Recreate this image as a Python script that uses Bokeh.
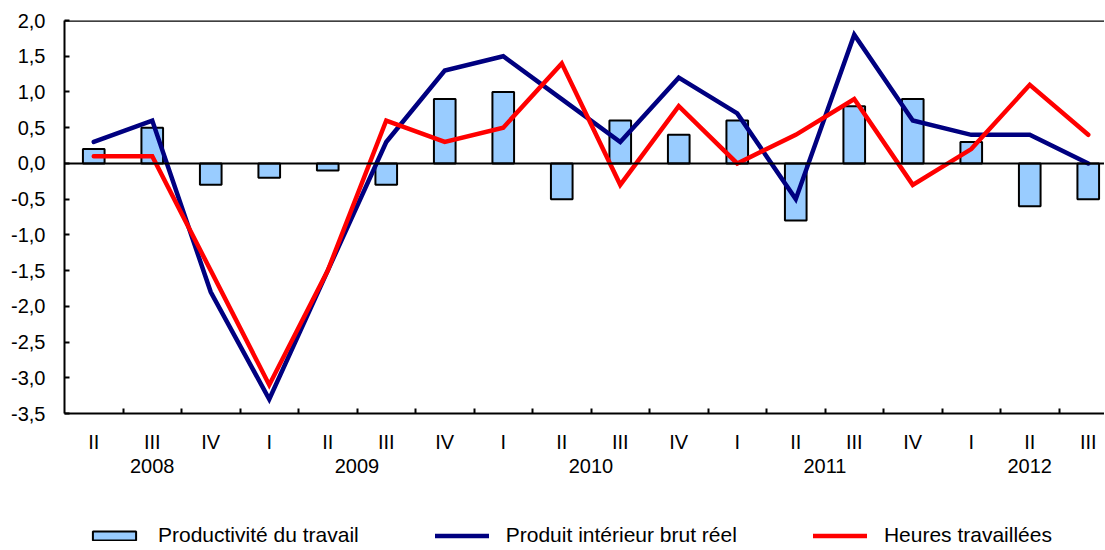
from bokeh.plotting import figure
from bokeh.layouts import column
from bokeh.models import (Range1d, FixedTicker, Span, Legend, LegendItem, ColumnDataSource,
                          LinearAxis)
from bokeh.embed import file_html
from bokeh.resources import INLINE

quarters = ["II", "III", "IV", "I", "II", "III", "IV", "I", "II", "III", "IV",
            "I", "II", "III", "IV", "I", "II", "III"]
years = ["2008"] * 3 + ["2009"] * 4 + ["2010"] * 4 + ["2011"] * 4 + ["2012"] * 3
productivite = [0.2, 0.5, -0.3, -0.2, -0.1, -0.3, 0.9, 1.0, -0.5, 0.6, 0.4,
                0.6, -0.8, 0.8, 0.9, 0.3, -0.6, -0.5]
pib = [0.3, 0.6, -1.8, -3.3, -1.5, 0.3, 1.3, 1.5, 0.9, 0.3, 1.2,
       0.7, -0.5, 1.8, 0.6, 0.4, 0.4, 0.0]
heures = [0.1, 0.1, -1.5, -3.1, -1.5, 0.6, 0.3, 0.5, 1.4, -0.3, 0.8,
          0.0, 0.4, 0.9, -0.3, 0.2, 1.1, 0.4]
y_ticks = [-3.5, -3.0, -2.5, -2.0, -1.5, -1.0, -0.5, 0.0, 0.5, 1.0, 1.5, 2.0]
labels = ["Productivité du travail", "Produit intérieur brut réel", "Heures travaillées"]

FONT = "Liberation Sans"
FS = "20px"
FS_LEG = "21px"
BAR_FILL = "#99CCFF"
BLUE = "#000080"
RED = "#FF0000"

x = list(range(len(quarters)))
src = ColumnDataSource(dict(x=x, prod=productivite, pib=pib, heures=heures))

W = 1104
H_MAIN, H_LEG = 500, 49
BL, BT = 64, 20
FRAME_H = 393
BB = H_MAIN - BT - FRAME_H
frame_w = W - BL
cat_px = 58.5


def draw(fig):
    b = fig.vbar(x="x", top="prod", width=0.37, source=src, fill_color=BAR_FILL,
                 line_color="black", line_width=2)
    a = fig.line(x="x", y="pib", source=src, line_color=BLUE, line_width=4.5,
                 line_cap="round", line_join="miter")
    c = fig.line(x="x", y="heures", source=src, line_color=RED, line_width=4.5,
                 line_cap="round", line_join="miter")
    return b, a, c


p = figure(width=W, height=H_MAIN, output_backend="svg", toolbar_location=None,
           x_range=Range1d(-0.5, -0.5 + frame_w / cat_px),
           y_range=Range1d(y_ticks[0], y_ticks[-1]),
           min_border_left=BL, min_border_right=0, min_border_top=BT, min_border_bottom=BB)
p.outline_line_color = None
p.grid.visible = False
p.background_fill_color = "white"
p.border_fill_color = "white"

draw(p)

p.add_layout(Span(location=0, dimension="width", line_color="black", line_width=2))
p.add_layout(Span(location=y_ticks[-1], dimension="width", line_color="black", line_width=2.5))

# y axis
ya = p.yaxis[0]
ya.ticker = FixedTicker(ticks=y_ticks)
ya.major_label_overrides = {t: f"{t:.1f}".replace(".", ",") for t in y_ticks}
ya.major_tick_in = 5
ya.major_tick_out = 0
ya.minor_tick_line_color = None
ya.axis_line_width = 2
ya.major_tick_line_width = 2
ya.major_label_text_font = FONT
ya.major_label_text_font_size = FS
ya.major_label_text_color = "black"
ya.major_label_standoff = 19

# x axis (quarters)
xa = p.xaxis[0]
xa.ticker = FixedTicker(ticks=x, minor_ticks=[i + 0.5 for i in x[:-1]])
xa.major_label_overrides = {i: q for i, q in zip(x, quarters)}
xa.major_tick_line_color = None
xa.major_tick_in = 0
xa.major_tick_out = 0
xa.minor_tick_in = 5
xa.minor_tick_out = 0
xa.minor_tick_line_width = 2
xa.axis_line_width = 2
xa.major_label_text_font = FONT
xa.major_label_text_font_size = FS
xa.major_label_text_color = "black"
xa.major_label_standoff = 17

# second axis: years centred on their quarters
year_names = list(dict.fromkeys(years))
year_centers = []
for yr in year_names:
    idx = [i for i, v in enumerate(years) if v == yr]
    year_centers.append(sum(idx) / len(idx))
ya2 = LinearAxis(ticker=FixedTicker(ticks=year_centers),
                 major_label_overrides={c: yr for c, yr in zip(year_centers, year_names)},
                 axis_line_color=None, major_tick_line_color=None, minor_tick_line_color=None,
                 major_tick_in=0, major_tick_out=0, major_label_standoff=3,
                 major_label_text_font=FONT, major_label_text_font_size=FS,
                 major_label_text_color="black")
p.add_layout(ya2, "below")

# legend strip: same series as hidden renderers, legend keys shown without the inactive veil
lg = figure(width=W, height=H_LEG, output_backend="svg", toolbar_location=None,
            x_axis_location=None, y_axis_location=None,
            x_range=Range1d(-0.5, -0.5 + frame_w / cat_px),
            y_range=Range1d(y_ticks[0], y_ticks[-1]),
            min_border_left=0, min_border_right=0, min_border_top=0, min_border_bottom=0)
lg.grid.visible = False
lg.outline_line_color = None
lg.background_fill_color = "white"
lg.border_fill_color = "white"
rb, ra, rc = draw(lg)
for r in (rb, ra, rc):
    r.visible = False

legend = Legend(items=[LegendItem(label=labels[0], renderers=[rb]),
                       LegendItem(label=labels[1], renderers=[ra]),
                       LegendItem(label=labels[2], renderers=[rc])],
                orientation="horizontal", location=(23, 2),
                glyph_width=54, glyph_height=11, label_standoff=17, spacing=76,
                padding=0, margin=0, border_line_color=None, background_fill_alpha=0,
                inactive_fill_alpha=0,
                label_text_font=FONT, label_text_font_size=FS_LEG, label_height=20,
                label_text_color="black")
lg.add_layout(legend)

layout = column(p, lg, spacing=0)
open("out.html", "w").write(file_html(layout, INLINE))
